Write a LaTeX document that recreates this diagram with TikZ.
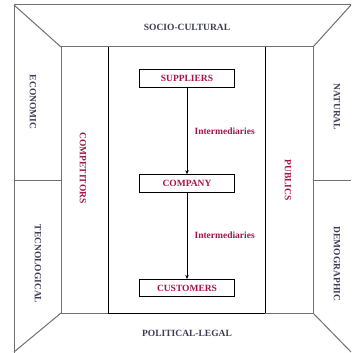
\documentclass[tikz,border=0pt]{standalone}
\usepackage{fontspec}
\setmainfont{Liberation Serif}
\usepackage{tikz}
\usetikzlibrary{positioning,arrows.meta}

\definecolor{envred}{RGB}{163,21,74}
\definecolor{envgray}{RGB}{60,60,85}
\definecolor{wallgray}{RGB}{112,112,112}

\tikzset{
  wall/.style={draw=wallgray, line width=1pt},
  divider/.style={draw=black, line width=0.6pt},
  macro/.style={font=\fontsize{9.5}{11}\selectfont\bfseries, text=envgray},
  micro/.style={font=\fontsize{9.5}{11}\selectfont\bfseries, text=envred},
  actor/.style={draw=black, line width=0.8pt, minimum width=95pt,
    minimum height=17.5pt, inner sep=0pt, micro},
  flow/.style={-{Stealth[length=4pt,width=3.5pt]}, line width=0.5pt}
}

\begin{document}
\begin{tikzpicture}[x=1pt, y=-1pt]
    \useasboundingbox (0,0) rectangle (351,353);
    % walls of the room
    \draw[wall] (351,5) -- (14,5) -- (14,353);
    \draw[wall] (14,5) -- (61,47);
    \draw[wall] (351,5) -- (313,47);
    \draw[wall] (14,352) -- (61,313);
    \draw[wall] (351,352) -- (313,313);
    \draw[wall] (14,180) -- (61,180);
    \draw[wall] (313,180) -- (351,180);
    \draw[wall] (61,47) rectangle (313,313);
    \draw[divider] (108,47) -- (108,313);
    \draw[divider] (265,47) -- (265,313);
    \draw[divider] (108,313) -- (265,313);
    % macro environment
    \node (SOCIO) [macro] at (187,27) {SOCIO-CULTURAL};
    \node (POLIT) [macro] at (187,333) {POLITICAL-LEGAL};
    \node (ECON) [macro, rotate=-90] at (33,102) {ECONOMIC};
    \node (TECN) [macro, rotate=-90] at (38,264) {TECNOLOGICAL};
    \node (NATU) [macro, rotate=-90] at (337,107) {NATURAL};
    \node (DEMO) [macro, rotate=-90] at (337,264) {DEMOGRAPHIC};
    % micro environment
    \node (COMP) [micro, rotate=-90] at (83,168) {COMPETITORS};
    \node (PUBL) [micro, rotate=-90] at (288,180) {PUBLICS};
    \node (SUPP) [actor] at (187,78.5) {SUPPLIERS};
    \node (FIRM) [actor, below=86.5pt of SUPP] {COMPANY};
    \node (CUST) [actor, below=86.5pt of FIRM] {CUSTOMERS};
    \draw[flow] (SUPP) -- (FIRM) node[micro, midway, right=4pt] {Intermediaries};
    \draw[flow] (FIRM) -- (CUST) node[micro, midway, right=4pt] {Intermediaries};
  \end{tikzpicture}
\end{document}
